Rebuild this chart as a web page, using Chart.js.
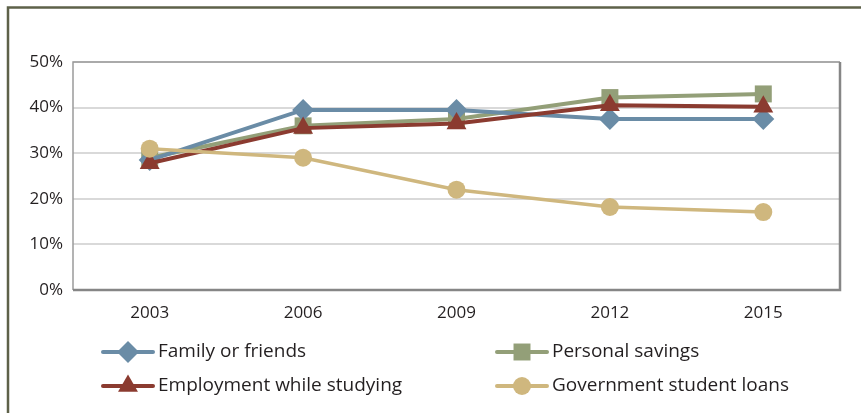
<!DOCTYPE html>
<html>
<head>
<meta charset="utf-8">
<script src="https://cdn.jsdelivr.net/npm/chart.js@4"></script>
<style>
  html, body { margin: 0; padding: 0; background: #ffffff; }
  #wrap { position: relative; width: 861px; height: 413px; }
  canvas { display: block; }
</style>
</head>
<body>
<div id="wrap"><canvas id="chart" width="861" height="413"></canvas></div>
<script>
// Survey years
const years = ['2003', '2006', '2009', '2012', '2015'];

// Share of students using each funding source (%)
const familyOrFriends = [28.5, 39.5, 39.5, 37.5, 37.5];
const personalSavings = [29.0, 36.0, 37.5, 42.2, 43.0];
const employmentWhileStudying = [27.8, 35.5, 36.5, 40.5, 40.2];
const governmentStudentLoans = [31.0, 29.0, 22.0, 18.2, 17.1];

// Y axis tick values
const yTicks = [0, 10, 20, 30, 40, 50];

const FONT = '"Open Sans", "Noto Sans", sans-serif';
const TEXT = '#231f20';

function series(label, data, color, pointStyle, radius, width, order) {
  return {
    label, data, order,
    borderColor: color, backgroundColor: color,
    pointBackgroundColor: color, pointBorderColor: 'rgba(0,0,0,0)',
    borderWidth: width, pointStyle, pointRadius: radius, pointHoverRadius: radius,
    pointBorderWidth: 0, tension: 0
  };
}

// Frame around the whole figure and box around the plot area
const framePlugin = {
  id: 'frame',
  beforeDraw(chart) {
    const ctx = chart.ctx;
    ctx.save();
    ctx.strokeStyle = '#5e6149';
    ctx.lineWidth = 2.5;
    ctx.beginPath();
    ctx.moveTo(8, 413);
    ctx.lineTo(8, 7.5);
    ctx.lineTo(861, 7.5);
    ctx.stroke();
    ctx.restore();
  },
  beforeDatasetsDraw(chart) {
    const { ctx, chartArea: a } = chart;
    ctx.save();
    ctx.strokeStyle = '#9a9a9a';
    ctx.lineWidth = 1.5;
    ctx.beginPath();
    ctx.moveTo(a.left, a.bottom);
    ctx.lineTo(a.left, a.top);
    ctx.lineTo(a.right, a.top);
    ctx.stroke();
    ctx.strokeStyle = '#868686';
    ctx.lineWidth = 2.5;
    ctx.beginPath();
    ctx.moveTo(a.right, a.top);
    ctx.lineTo(a.right, a.bottom);
    ctx.lineTo(a.left, a.bottom);
    ctx.stroke();
    ctx.restore();
  }
};

// Two-column legend with line + marker swatches
const legendPlugin = {
  id: 'lineLegend',
  afterDraw(chart) {
    const ctx = chart.ctx;
    const cols = [103, 497];
    const rows = [352, 386];
    chart.data.datasets.forEach((ds, i) => {
      const x = cols[i % 2];
      const y = rows[Math.floor(i / 2)];
      ctx.save();
      ctx.strokeStyle = ds.borderColor;
      ctx.lineWidth = 4;
      ctx.lineCap = 'round';
      ctx.beginPath();
      ctx.moveTo(x, y);
      ctx.lineTo(x + 50, y);
      ctx.stroke();
      ctx.fillStyle = ds.pointBackgroundColor;
      Chart.helpers.drawPoint(ctx, {
        pointStyle: ds.pointStyle, radius: ds.pointRadius, borderWidth: 0, rotation: 0
      }, x + 25, y);
      ctx.fillStyle = TEXT;
      ctx.font = '19px ' + FONT;
      ctx.textBaseline = 'middle';
      ctx.fillText(ds.label, x + 55, y);
      ctx.restore();
    });
  }
};

new Chart(document.getElementById('chart'), {
  type: 'line',
  data: {
    labels: years,
    datasets: [
      series('Family or friends', familyOrFriends, '#6a8ca6', 'rectRot', 11, 4, 2),
      series('Personal savings', personalSavings, '#939f78', 'rect', 12, 4, 3),
      series('Employment while studying', employmentWhileStudying, '#8b3b30', 'triangle', 11.5, 4, 1),
      series('Government student loans', governmentStudentLoans, '#cfb77e', 'circle', 9, 3.5, 0)
    ]
  },
  plugins: [framePlugin, legendPlugin],
  options: {
    responsive: false,
    animation: false,
    events: [],
    layout: { padding: { top: 62, right: 21, bottom: 0, left: 0 } },
    plugins: { legend: { display: false }, tooltip: { enabled: false } },
    scales: {
      x: {
        offset: true,
        grid: { display: false, drawTicks: false },
        border: { display: false },
        ticks: { color: TEXT, font: { family: FONT, size: 17 }, padding: 13, maxRotation: 0 },
        afterFit(s) { s.height = 123; }
      },
      y: {
        min: 0, max: 50,
        afterBuildTicks(s) { s.ticks = yTicks.map(v => ({ value: v })); },
        grid: { color: '#d9d9d9', lineWidth: 2, drawTicks: false },
        border: { display: false },
        ticks: {
          color: TEXT, font: { family: FONT, size: 17 }, padding: 10,
          callback: v => v + '%'
        },
        afterFit(s) { s.width = 73; }
      }
    }
  }
});
</script>
</body>
</html>
